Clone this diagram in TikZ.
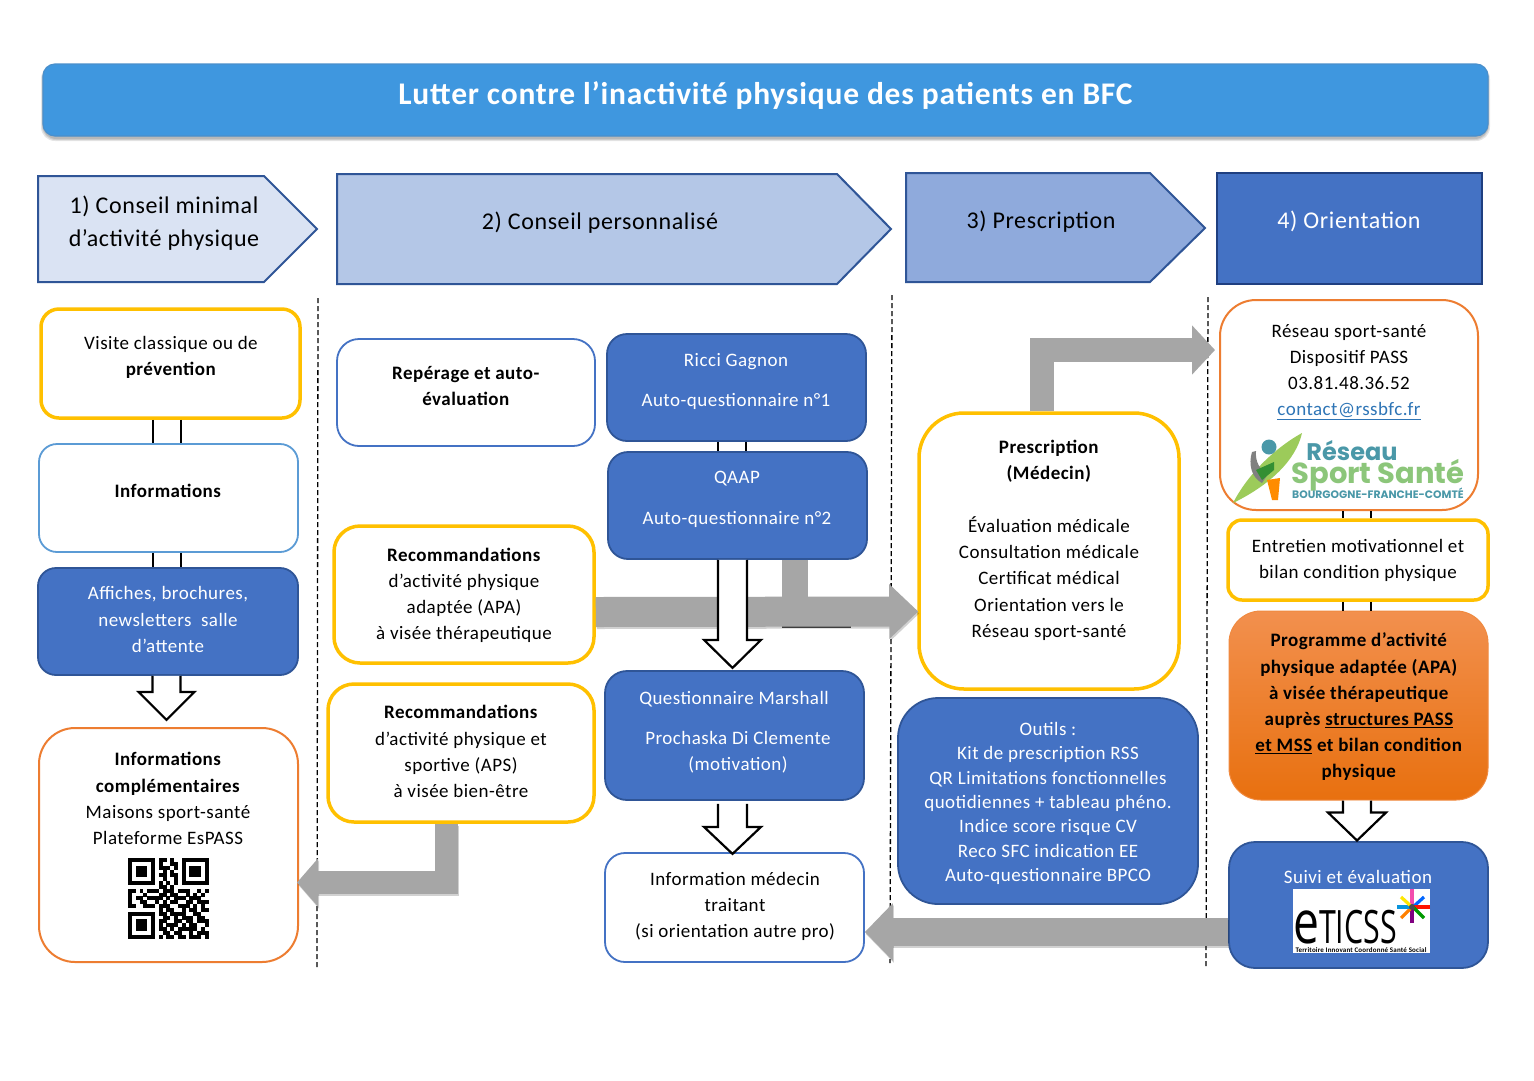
\documentclass[tikz,border=0pt]{standalone}
\usepackage{fontspec}
\usepackage{graphicx}
\setmainfont{Carlito}[LetterSpace=2.5]
\newfontfamily\logofont{Poppins}
\newfontfamily\etifont{Open Sans}
\usetikzlibrary{arrows.meta,shadows,shapes.geometric}
\definecolor{bluefill}{HTML}{4472C4}
\definecolor{bluedark}{HTML}{2F5597}
\definecolor{blueline}{HTML}{5B9BD5}
\definecolor{yel}{HTML}{FFC000}
\definecolor{org}{HTML}{ED7D31}
\definecolor{grayarrow}{HTML}{A6A6A6}
\definecolor{linkblue}{HTML}{2E75B6}
\definecolor{teal}{HTML}{4A98A8}
\definecolor{lgreen}{HTML}{8CC67A}
\definecolor{swoosh}{HTML}{9CCB5A}
\definecolor{headb}{HTML}{B4C7E7}
\definecolor{headc}{HTML}{8FAADC}
\definecolor{headd}{HTML}{1F3F80}
\definecolor{titf}{HTML}{3F97DF}
\definecolor{titl}{HTML}{4A8FCB}
\definecolor{orga}{HTML}{F2904E}
\definecolor{orgb}{HTML}{E8700F}
\definecolor{orgc}{HTML}{F08A40}
\tikzset{
  txt/.style={align=center,inner sep=0pt,yshift=-1.5pt,font=\fontsize{19}{26.2}\selectfont},
  wtxt/.style={txt,text=white},
  headtxt/.style={font=\fontsize{24}{33}\selectfont},
  basebox/.style={rectangle,inner sep=0pt},
  yelbox/.style={basebox,draw=yel,line width=3.5pt,fill=white},
  orgbox/.style={basebox,draw=org,line width=2pt,fill=white},
  linebox/.style={basebox,draw=blueline,line width=1.8pt,fill=white},
  lineboxb/.style={basebox,draw=bluefill,line width=1.8pt,fill=white},
  bluebox/.style={basebox,draw=bluedark,line width=1.8pt,fill=bluefill},
  head/.style={draw=bluedark,line width=2pt},
  dashsep/.style={draw=black,line width=1.3pt,dash pattern=on 5pt off 3pt},
  lk/.style={draw=black,line width=2pt},
  openarrow/.style={draw=black,line width=2.2pt,fill=white,line join=miter},
  grlink/.style={draw=grayarrow,line join=miter},
  grshadow/.style={draw=black,opacity=.18,line join=miter,transform canvas={shift={(1pt,-2pt)}}},
  titleshade/.style={basebox,rounded corners=14pt,fill=black,opacity=.10},
}
\newcommand\bx[6]{\node[#6,minimum width={(#4-#2)*1pt},minimum height={(#5-#3)*1pt}] (#1) at ({(#2+#4)/2},{(#3+#5)/2}) {};}
% start coordinate, half shaft, shaft length, head overhang, head length
\newcommand\openarr[5]{\draw[openarrow] #1 ++(-#2,0) -- ++(0,#3) -- ++(-#4,0) -- ++(#2+#4,#5) -- ++(#2+#4,-#5) -- ++(-#4,0) -- ++(0,-#3);}
\newcount\qx \newcount\qy
\def\qrscan#1{\ifx#1\relax\else\if#11\fill[black] (\the\qx,\the\qy) rectangle ++(1.03,1.03);\fi\advance\qx by 1 \expandafter\qrscan\fi}
\def\qrrow#1{\qx=0 \qrscan#1\relax\advance\qy by 1 }
\begin{document}
\begin{tikzpicture}[x=1pt,y=-1pt]
\useasboundingbox (0,0) rectangle (1534,1080);
\fill[white] (0,0) rectangle (1534,1080);

% title
\node[titleshade,minimum width=1449pt,minimum height=76pt] (tsa) at (765.5,103) {};
\node[titleshade,minimum width=1447pt,minimum height=75pt] (tsb) at (765.5,102.5) {};
\node[titleshade,minimum width=1446pt,minimum height=74pt] (tsc) at (765.5,102) {};
\node[basebox,rounded corners=12pt,minimum width=1445pt,minimum height=72pt,fill=titf,draw=titl,line width=1.2pt,text=white,font=\fontsize{31.5}{34}\selectfont\bfseries] (title) at (765.5,100) {\raisebox{13pt}{Lutter contre l’inactivité physique des patients en BFC}};

% headers
\draw[head,fill=bluefill!20!white] (38,176) -- (264,176) -- (317,229) -- (264,282) -- (38,282) -- cycle;
\node[txt,headtxt] (h1) at (164,222) {1) Conseil minimal\\d’activité physique};
\draw[head,fill=headb] (337,174) -- (837,174) -- (891,229) -- (837,284) -- (337,284) -- cycle;
\node[txt,headtxt] (h2) at (600,221) {2) Conseil personnalisé};
\draw[head,fill=headc] (906,173) -- (1150,173) -- (1205,228) -- (1150,282) -- (906,282) -- cycle;
\node[txt,headtxt] (h3) at (1041,220) {3) Prescription};
\bx{h4}{1217}{173}{1482}{284}{basebox,draw=headd,line width=2.8pt,fill=bluefill}
\node[wtxt,headtxt] (h4t) at (1349,220) {4) Orientation};

% separators
\coordinate (s1a) at (318,298); \coordinate (s1b) at (317,967);
\coordinate (s2a) at (892,295); \coordinate (s2b) at (890,963);
\coordinate (s3a) at (1208,297); \coordinate (s3b) at (1206,966);
\draw[dashsep] (s1a) -- (s1b);
\draw[dashsep] (s2a) -- (s2b);
\draw[dashsep] (s3a) -- (s3b);

% boxes
\bx{a1}{41}{309}{300}{418}{yelbox,rounded corners=18pt}
\bx{a2}{39}{444}{298}{552}{linebox,rounded corners=18pt}
\bx{a3}{38}{568}{298}{675}{bluebox,rounded corners=18pt}
\bx{a4}{39}{728}{298}{962}{orgbox,rounded corners=36pt}
\bx{b1}{337}{339}{595}{446}{lineboxb,rounded corners=22pt}
\bx{b2}{334}{526}{594}{663}{yelbox,rounded corners=26pt}
\bx{b3}{328}{684}{594}{822}{yelbox,rounded corners=26pt}
\bx{c1}{607}{334}{866}{441}{bluebox,rounded corners=20pt}
\bx{c2}{608}{452}{867}{559}{bluebox,rounded corners=20pt}
\bx{c3}{605}{671}{864}{800}{bluebox,rounded corners=22pt}
\bx{c4}{605}{853}{864}{962}{lineboxb,rounded corners=20pt}
\bx{d1}{919}{413}{1179}{689}{yelbox,rounded corners=45pt}
\bx{d2}{898}{698}{1198}{904}{bluebox,rounded corners=40pt}
\bx{e1}{1220}{300}{1478}{510}{orgbox,rounded corners=36pt}
\bx{e2}{1228}{520}{1488}{600}{yelbox,rounded corners=14pt}
\bx{e3}{1229}{611}{1488}{800}{basebox,rounded corners=32pt,top color=orga,bottom color=orgb,draw=orgc,line width=1pt}
\bx{e4}{1229}{842}{1488}{968}{bluebox,rounded corners=26pt}

% double connectors
\draw[lk] ([xshift=-17.5pt]a1.south) -- ([xshift=-15.5pt]a2.north);
\draw[lk] ([xshift=10.5pt]a1.south) -- ([xshift=12.5pt]a2.north);
\draw[lk] ([xshift=-15.5pt]a2.south) -- ([xshift=-15pt]a3.north);
\draw[lk] ([xshift=12.5pt]a2.south) -- ([xshift=13pt]a3.north);
\draw[lk] ([xshift=-18.5pt]c1.south) -- ([xshift=-19.5pt]c2.north);
\draw[lk] ([xshift=9.5pt]c1.south) -- ([xshift=8.5pt]c2.north);
\draw[lk] ([xshift=-6pt]e1.south) -- ([xshift=-15pt]e2.north);
\draw[lk] ([xshift=22pt]e1.south) -- ([xshift=13pt]e2.north);
\draw[lk] ([xshift=-15pt]e2.south) -- ([xshift=-15.5pt]e3.north);
\draw[lk] ([xshift=13pt]e2.south) -- ([xshift=12.5pt]e3.north);

% gray arrows
\coordinate (stubend) at (795,600);
\coordinate (tipa) at (1215,350);
\coordinate (tipb) at (297,882.5);
\draw[grlink,line width=26pt] ([xshift=57.5pt]c2.south) -- (stubend);
\draw[black!70,line width=1.2pt] (782,627) -- (851,627);
\draw[grshadow,line width=30pt,-{Triangle[length=29pt,width=53pt]}] ([yshift=-17.5pt]b2.east) -- ([xshift=1pt,yshift=-60.5pt]d1.west);
\draw[grlink,line width=30pt,-{Triangle[length=29pt,width=53pt]}] ([yshift=-17.5pt]b2.east) -- ([xshift=1pt,yshift=-60.5pt]d1.west);
\draw[grlink,line width=24pt,-{Triangle[length=23pt,width=48pt]}] ([xshift=-7pt]d1.north) |- (tipa);
\draw[grshadow,line width=23pt,-{Triangle[length=21pt,width=47pt]}] ([xshift=-14.5pt]b3.south) |- (tipb);
\draw[grlink,line width=23pt,-{Triangle[length=21pt,width=47pt]}] ([xshift=-14.5pt]b3.south) |- (tipb);
\draw[grshadow,line width=28pt,-{Triangle[length=28pt,width=56pt]}] ([yshift=-27pt]e4.west) -- ([yshift=-24.5pt]c4.east);
\draw[grlink,line width=28pt,-{Triangle[length=28pt,width=56pt]}] ([yshift=-27pt]e4.west) -- ([yshift=-24.5pt]c4.east);

% open arrows
\openarr{([xshift=-1.5pt]a3.south)}{14}{16}{14}{28}
\openarr{([xshift=-5pt]c2.south)}{14.5}{80}{14}{28}
\openarr{([xshift=-2pt,yshift=-3pt]c3.south)}{14.5}{23}{14}{27}
\openarr{([xshift=-1.5pt]e3.south)}{14}{12}{15}{28}

% column 1 texts
\node[txt] (a1t) at (171,356) {Visite classique ou de\\\textbf{prévention}};
\node[txt] (a2t) at (168,489) {\textbf{Informations}};
\node[wtxt] (a3t) at (168,618) {Affiches, brochures,\\newsletters\ \ salle\\d’attente};
\node[txt] (a4t) at (168,797) {\textbf{Informations}\\\textbf{complémentaires}\\Maisons sport-santé\\Plateforme EsPASS};
% QR code
\begin{scope}[shift={(128,858)},x=3.84pt,y=-3.84pt]
\qy=0
\qrrow{111111101101001111111}
\qrrow{100000101001101000001}
\qrrow{101110101110101011101}
\qrrow{101110100101001011101}
\qrrow{101110101101101011101}
\qrrow{100000100100101000001}
\qrrow{111111101010101111111}
\qrrow{000000001101000000000}
\qrrow{110101110111011100101}
\qrrow{100010001101100101010}
\qrrow{101101111010111011100}
\qrrow{100110010101100110111}
\qrrow{110011101110011101010}
\qrrow{000000001011001011011}
\qrrow{111111101101111001100}
\qrrow{100000100110101110110}
\qrrow{101110101100110110111}
\qrrow{101110101011101011001}
\qrrow{101110101101011111010}
\qrrow{100000100110110010111}
\qrrow{111111101011011011101}
\end{scope}

% column 2 texts
\node[txt] (b1t) at (466,384.5) {\textbf{Repérage et auto-}\\\textbf{évaluation}};
\node[txt] (b2t) at (464,594) {\textbf{Recommandations}\\d’activité physique\\adaptée (APA)\\à visée thérapeutique};
\node[txt] (b3t) at (461,750) {\textbf{Recommandations}\\d’activité physique et\\sportive (APS)\\à visée bien-être};
\node[wtxt,font=\fontsize{19}{40.5}\selectfont] (c1t) at (736,380) {Ricci Gagnon\\Auto-questionnaire n°1};
\node[wtxt,font=\fontsize{19}{40.5}\selectfont] (c2t) at (737,498) {QAAP\\Auto-questionnaire n°2};
\node[wtxt] (c3ta) at (734,698) {Questionnaire Marshall};
\node[wtxt] (c3tb) at (738,751) {Prochaska Di Clemente\\(motivation)};
\node[txt] (c4t) at (735,905) {Information médecin\\traitant\\(si orientation autre pro)};

% column 3 texts
\node[txt] (d1ta) at (1049,460) {\textbf{Prescription}\\\textbf{(Médecin)}};
\node[txt] (d1tb) at (1049,577) {Évaluation médicale\\Consultation médicale\\Certificat médical\\Orientation vers le\\Réseau sport-santé};
\node[wtxt,font=\fontsize{19}{24.4}\selectfont] (d2t) at (1048,802) {Outils :\\Kit de prescription RSS\\QR Limitations fonctionnelles\\quotidiennes + tableau phéno.\\Indice score risque CV\\Reco SFC indication EE\\Auto-questionnaire BPCO};

% column 4 texts
\node[txt] (e1t) at (1349,370.5) {Réseau sport-santé\\Dispositif PASS\\03.81.48.36.52\\\textcolor{linkblue}{\underline{contact@rssbfc.fr}}};
% logo RSS
\fill[swoosh] (1233,503) .. controls (1250,470) and (1280,445) .. (1302,433) .. controls (1296,460) and (1270,485) .. (1233,503) -- cycle;
\fill[teal] (1269,447) circle (7.5pt);
\fill[black!50] (1252,452) .. controls (1248,465) and (1252,478) .. (1262,483) -- (1268,474) .. controls (1260,470) and (1255,462) .. (1256,451) -- cycle;
\fill[green!45!black!80] (1256,470) -- (1274,462) -- (1274,470) -- (1262,480) -- cycle;
\fill[orange!90!yellow] (1267,480) -- (1280,478) -- (1278,500) -- (1272,500) -- cycle;
\node[inner sep=0pt,anchor=base,text=teal,font=\logofont\fontsize{24}{24}\selectfont\bfseries] (lg1) at (1352,460) {Réseau};
\node[inner sep=0pt,anchor=base,text=lgreen,font=\logofont\fontsize{29}{29}\selectfont\bfseries] (lg2) at (1378,483) {Sport Santé};
\node[inner sep=0pt,anchor=base,text=teal,font=\logofont\fontsize{10.8}{11}\selectfont\bfseries] (lg3) at (1378,498) {BOURGOGNE-FRANCHE-COMTÉ};

\node[txt] (e2t) at (1358,559) {Entretien motivationnel et\\bilan condition physique};
\node[txt] (e3t) at (1359,705.5) {\textbf{Programme d’activité}\\\textbf{physique adaptée (APA)}\\\textbf{à visée thérapeutique}\\\textbf{auprès \underline{structures PASS}}\\\textbf{\underline{et MSS} et bilan condition}\\\textbf{physique}};
\node[wtxt] (e4t) at (1358,875.5) {Suivi et évaluation};
% eticss logo
\fill[white] (1293,889) rectangle (1430,953);
\node[inner sep=0pt,anchor=base west,text=black,font=\etifont] (eti) at (1293,943) {\scalebox{.77}[1]{\fontsize{60}{60}\selectfont e}\scalebox{.66}[1]{\fontsize{46}{46}\selectfont TICSS}};
\node[inner sep=0pt,anchor=base,text=black,font=\fontsize{7}{8}\selectfont\bfseries] (eti2) at (1361,952) {Territoire Innovant Coordonné Santé Social};
\begin{scope}[line width=3.2pt]
\draw[magenta!70!white] (1412,889) -- (1412,906);
\draw[blue!60!cyan] (1424,897) -- (1413,907);
\draw[red!85!orange] (1430,907) -- (1413,907);
\draw[green!60!black] (1424,918) -- (1413,907);
\draw[violet] (1412,923) -- (1412,907);
\draw[orange] (1401,918) -- (1412,907);
\draw[cyan!80!blue] (1397,907) -- (1412,907);
\draw[yellow!90!orange] (1401,897) -- (1412,907);
\fill[black!70] (1412,907) circle (3pt);
\end{scope}
\end{tikzpicture}
\end{document}
